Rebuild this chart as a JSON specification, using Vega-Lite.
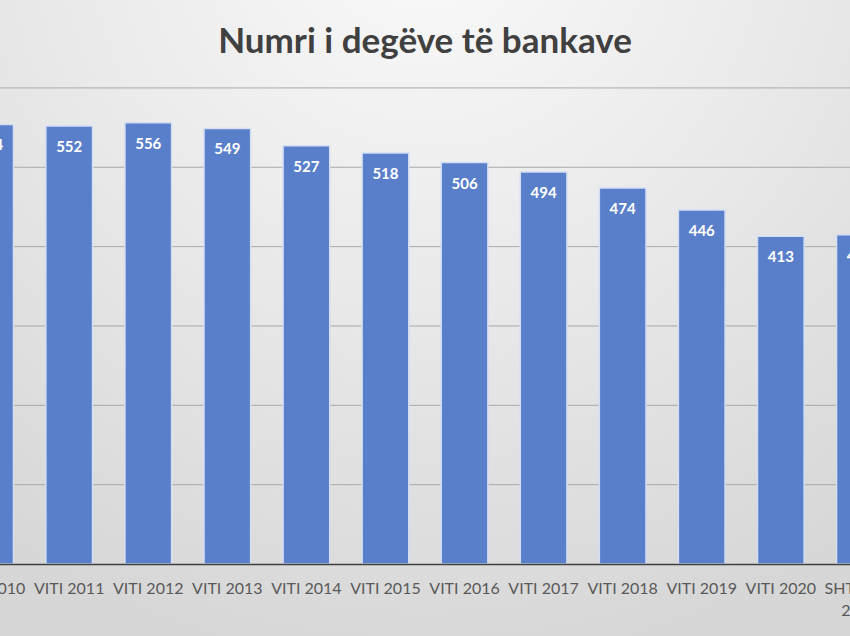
{
  "$schema": "https://vega.github.io/schema/vega-lite/v6.json",
  "autosize": {"type": "none"},
  "width": 948,
  "height": 636,
  "padding": {"left": -49, "top": 0, "right": 0, "bottom": 0},
  "background": "#dcdcdc",
  "title": {
    "text": "Numri i degëve të bankave",
    "anchor": "middle",
    "offset": -60,
    "font": "Lato",
    "fontSize": 35,
    "fontWeight": "bold",
    "color": "#404040"
  },
  "config": {"view": {"stroke": null}},
  "layer": [
    {
      "data": {"values": [{"bg": 1}]},
      "mark": {
        "type": "rect",
        "fill": {
          "gradient": "radial",
          "x1": 0.5, "y1": 0.08, "r1": 0,
          "x2": 0.5, "y2": 0.08, "r2": 0.8,
          "stops": [
            {"offset": 0, "color": "#fafafa"},
            {"offset": 0.5, "color": "#e9e9e9"},
            {"offset": 1, "color": "#d6d6d6"}
          ]
        }
      },
      "encoding": {}
    },
    {
      "data": {"values": [{"g": 100}, {"g": 200}, {"g": 300}, {"g": 400}, {"g": 500}, {"g": 600}]},
      "mark": {"type": "rule", "color": "#a9a9a9", "strokeWidth": 1},
      "encoding": {
        "y": {"field": "g", "type": "quantitative", "scale": {"domain": [-90.7, 710.8], "nice": false, "zero": false}, "axis": null}
      }
    },
    {
      "data": {
        "values": [
          {"periudha": "VITI 2010", "degë": 554},
          {"periudha": "VITI 2011", "degë": 552},
          {"periudha": "VITI 2012", "degë": 556},
          {"periudha": "VITI 2013", "degë": 549},
          {"periudha": "VITI 2014", "degë": 527},
          {"periudha": "VITI 2015", "degë": 518},
          {"periudha": "VITI 2016", "degë": 506},
          {"periudha": "VITI 2017", "degë": 494},
          {"periudha": "VITI 2018", "degë": 474},
          {"periudha": "VITI 2019", "degë": 446},
          {"periudha": "VITI 2020", "degë": 413},
          {"periudha": "SHTATOR 2021", "degë": 415}
        ]
      },
      "encoding": {
        "x": {
          "field": "periudha",
          "type": "nominal",
          "sort": null,
          "scale": {"paddingInner": 0.41, "paddingOuter": 0.2},
          "axis": {
            "title": null,
            "orient": "bottom",
            "offset": -72,
            "zindex": 1,
            "labelAngle": 0,
            "labelFont": "Lato",
            "labelFontSize": 16,
            "labelColor": "#595959",
            "labelPadding": 16,
            "labelLineHeight": 22,
            "labelExpr": "datum.label == 'SHTATOR 2021' ? ['SHTATOR', '2021'] : datum.label",
            "ticks": false,
            "domainColor": "#3f3f3f",
            "domainWidth": 1.5,
            "grid": false
          }
        },
        "y": {
          "field": "degë",
          "type": "quantitative",
          "scale": {"domain": [-90.7, 710.8], "nice": false, "zero": false},
          "axis": null
        }
      },
      "layer": [
        {
          "mark": {"type": "bar", "color": "#5a7fca", "stroke": "#d3def2", "strokeWidth": 1.5},
          "encoding": {"y2": {"datum": 0}}
        },
        {
          "mark": {
            "type": "text",
            "color": "white",
            "font": "Lato",
            "fontSize": 15,
            "fontWeight": "bold",
            "baseline": "middle",
            "dy": 21
          },
          "encoding": {"text": {"field": "degë", "type": "quantitative"}}
        }
      ]
    }
  ]
}
